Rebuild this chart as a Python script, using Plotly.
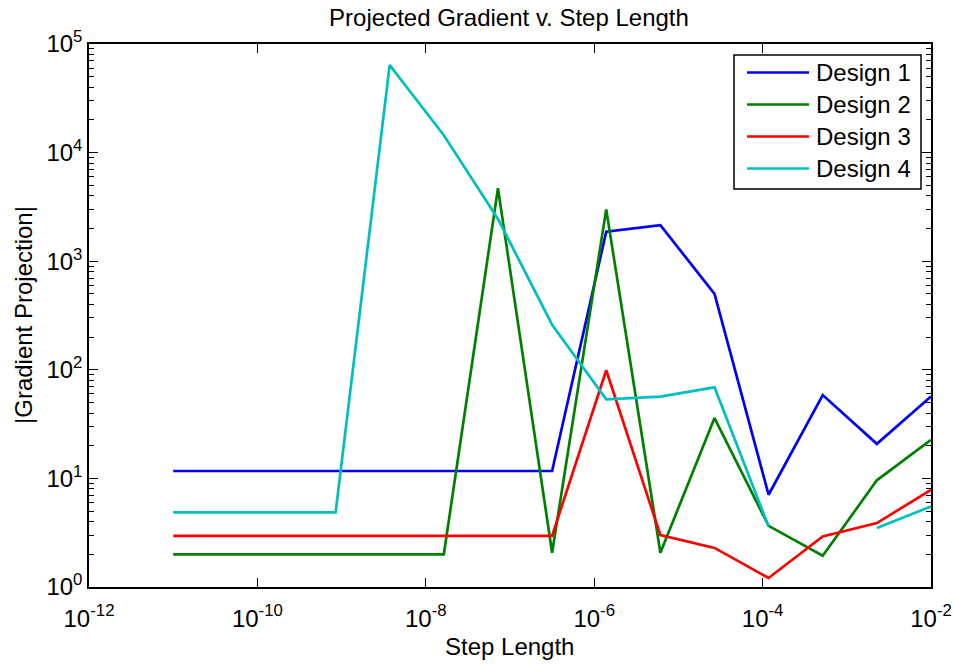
import numpy as np
import plotly.graph_objects as go

# Step lengths: 15 log-spaced samples from 1e-11 to 1e-2
step_exponents = [-11.0, -10.357, -9.714, -9.071, -8.429, -7.786, -7.143,
                  -6.5, -5.857, -5.214, -4.571, -3.929, -3.286, -2.643, -2.0]

design_1 = [11.7, 11.7, 11.7, 11.7, 11.7, 11.7, 11.7, 11.7,
            1870, 2150, 500, 7.07, 58.5, 20.8, 56.7]
design_2 = [2.0, 2.0, 2.0, 2.0, 2.0, 2.0, 4690, 2.07,
            3000, 2.07, 35.9, 3.66, 1.94, 9.6, 22.6]
design_3 = [2.96, 2.96, 2.96, 2.96, 2.96, 2.96, 2.96, 2.96,
            99, 3.0, 2.29, 1.21, 2.92, 3.88, 7.85]
design_4 = [4.86, 4.86, 4.86, 4.86, 63800, 14450, 2450, 260,
            53.5, 56.7, 69, 3.61, None, 3.49, 5.52]

series_names = ["Design 1", "Design 2", "Design 3", "Design 4"]
series_values = [design_1, design_2, design_3, design_4]
series_colors = ["#0000FF", "#008000", "#FF0000", "#00BFBF"]

x_tick_exponents = [-12, -10, -8, -6, -4, -2]
x_tick_labels = ["10<sup>-12</sup>", "10<sup>-10</sup>", "10<sup>-8</sup>",
                 "10<sup>-6</sup>", "10<sup>-4</sup>", "10<sup>-2</sup>"]
y_tick_exponents = [0, 1, 2, 3, 4, 5]
y_tick_labels = ["10<sup>0</sup>", "10<sup>1</sup>", "10<sup>2</sup>",
                 "10<sup>3</sup>", "10<sup>4</sup>", "10<sup>5</sup>"]

FONT = "Liberation Sans, Arial, Helvetica, sans-serif"
W, H = 953, 664
L, R, T, B = 89, 931, 44, 587  # plot-area edges in pixels


def px(x):
    return (x - L) / (R - L)


def py(y):
    return (B - y) / (B - T)


step_lengths = [10.0 ** e for e in step_exponents]

fig = go.Figure()
for name, vals, col in zip(series_names, series_values, series_colors):
    fig.add_trace(go.Scatter(
        x=step_lengths, y=vals, name=name, mode="lines",
        line=dict(color=col, width=2.7), connectgaps=False,
        showlegend=False,
    ))

axis_common = dict(
    showline=True, linecolor="black", linewidth=1.5, mirror="allticks",
    ticks="inside", ticklen=9, tickwidth=1.2, tickcolor="black",
    showgrid=False, zeroline=False, automargin=False,
    tickfont=dict(family=FONT, size=24, color="black"),
)

fig.update_xaxes(
    type="log", range=[-12, -2],
    tickvals=[10.0 ** e for e in x_tick_exponents], ticktext=x_tick_labels,
    ticklabelstandoff=9,
    title=dict(text="Step Length", font=dict(family=FONT, size=24, color="black"),
               standoff=0),
    **axis_common,
)
fig.update_yaxes(
    type="log", range=[0, 5],
    tickvals=[10.0 ** e for e in y_tick_exponents], ticktext=y_tick_labels,
    minor=dict(ticks="inside", ticklen=5, tickwidth=1, tickcolor="black",
               showgrid=False,
               tickvals=[m * 10.0 ** d for d in range(0, 5) for m in range(2, 10)]),
    title=dict(text="|Gradient Projection|",
               font=dict(family=FONT, size=24, color="black"), standoff=0),
    **axis_common,
)

# Legend box drawn in the upper right of the axes
shapes = [dict(type="rect", xref="paper", yref="paper",
               x0=px(734), x1=px(921), y0=py(189), y1=py(55),
               line=dict(color="black", width=1.5), fillcolor="white",
               layer="above")]
annotations = [
    dict(text="Step Length", xref="paper", yref="paper", x=px(509), y=py(646),
         xanchor="center", yanchor="middle", showarrow=False,
         font=dict(family=FONT, size=24, color="black")),
    dict(text="|Gradient Projection|", xref="paper", yref="paper", x=px(24),
         y=py(315), xanchor="center", yanchor="middle", textangle=-90,
         showarrow=False, font=dict(family=FONT, size=24, color="black")),
]
for i, (name, col) in enumerate(zip(series_names, series_colors)):
    yc = py(72.5 + 32 * i)
    shapes.append(dict(type="line", xref="paper", yref="paper",
                       x0=px(747), x1=px(809), y0=yc, y1=yc,
                       line=dict(color=col, width=2.7), layer="above"))
    annotations.append(dict(text=name, xref="paper", yref="paper",
                            x=px(814), y=yc, xanchor="left", yanchor="middle",
                            showarrow=False,
                            font=dict(family=FONT, size=24, color="black")))

# axis titles are placed as annotations for exact positioning
fig.update_xaxes(title_text="")
fig.update_yaxes(title_text="")

fig.update_layout(
    width=W, height=H, autosize=False,
    margin=dict(l=L, r=W - R, t=T, b=H - B),
    paper_bgcolor="white", plot_bgcolor="white",
    title=dict(text="Projected Gradient v. Step Length", x=px(509), xref="paper",
               xanchor="center", y=1 - 18 / H, yref="container", yanchor="middle",
               font=dict(family=FONT, size=24, color="black")),
    shapes=shapes, annotations=annotations,
)

fig.write_html("out.html")
